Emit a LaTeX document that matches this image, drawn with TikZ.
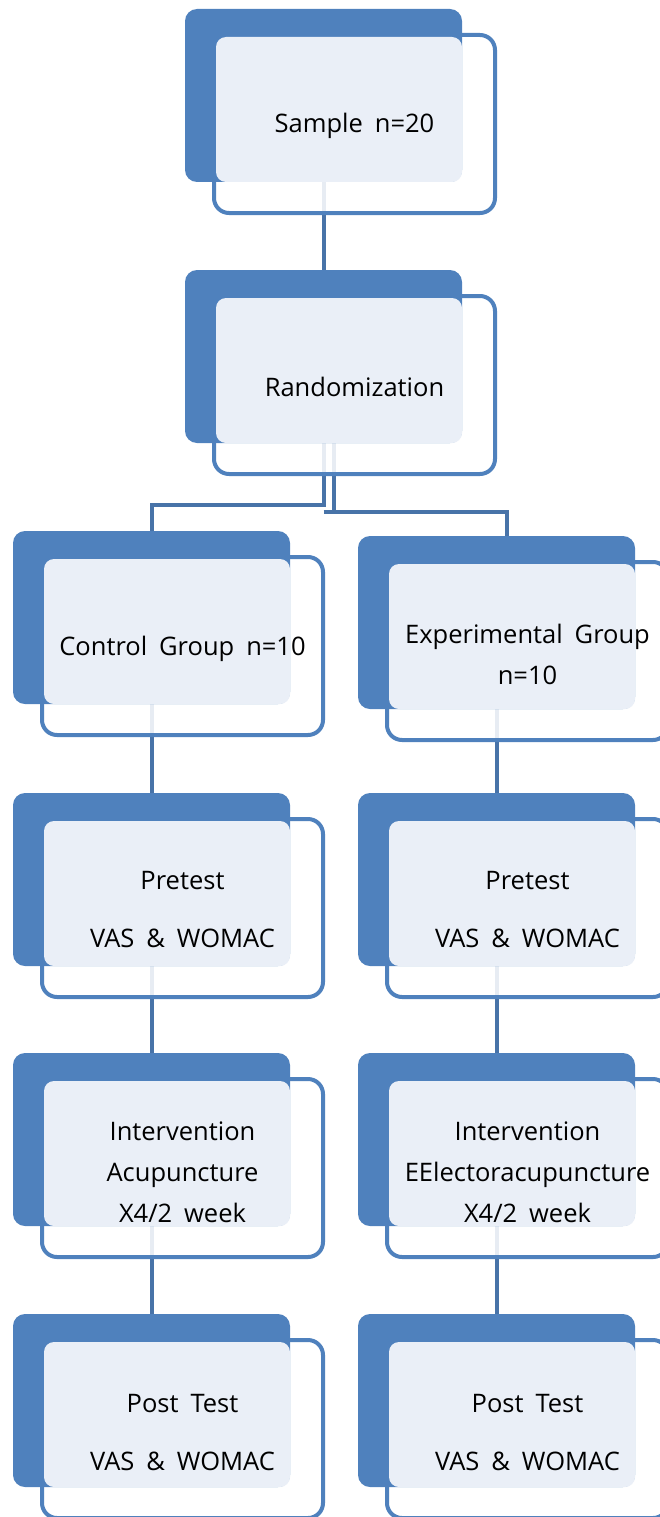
\documentclass[tikz,border=0pt]{standalone}
\usepackage{fontspec}
\setmainfont[WordSpace=1.8]{Open Sans}
\usepackage{xcolor}

\definecolor{boxblue}{RGB}{79,129,189}
\definecolor{linkblue}{RGB}{72,115,168}
\definecolor{paleblue}{RGB}{234,239,247}

\pgfdeclarelayer{background}
\pgfsetlayers{background,main}

\begin{document}
\begin{tikzpicture}[x=1pt,y=1pt,yscale=-1,xscale=1,
    backbox/.style={fill=boxblue, rounded corners=12pt, minimum width=277pt, minimum height=173pt, inner sep=0pt, outer sep=0pt, anchor=north west},
    outerbox/.style={draw=boxblue, line width=4pt, fill=white, fill opacity=0.87, rounded corners=15pt},
    innerbox/.style={fill=paleblue, rounded corners=10pt},
    boxtext/.style={inner sep=0pt, align=center, font=\fontsize{25.5}{41}\selectfont},
    link/.style={draw=linkblue, line width=4pt}]
            \useasboundingbox (0,0) rectangle (660,1517);
                %Rounded Rect: Sample
                \draw [outerbox] (214,35) rectangle (495,213);
                \node [backbox] (sample) at (185,9) {};
                \fill [innerbox] (216,37) rectangle (462,182);
                % Text Node
                \node [boxtext] (sampleText) at (354.5,126) {Sample n=20};

                %Rounded Rect: Randomization
                \draw [outerbox] (214,296) rectangle (495,474);
                \node [backbox] (rand) at (185,270) {};
                \fill [innerbox] (216,298) rectangle (462,443);
                % Text Node
                \node [boxtext] (randText) at (354.5,387) {Randomization};

                %Rounded Rect: Control Group
                \draw [outerbox] (42,557) rectangle (323,735);
                \node [backbox] (ctrl) at (13,531) {};
                \fill [innerbox] (44,559) rectangle (290,704);
                % Text Node
                \node [boxtext] (ctrlText) at (182.5,649) {Control Group n=10};

                %Rounded Rect: Experimental Group
                \draw [outerbox] (387,562) rectangle (668,740);
                \node [backbox] (expg) at (358,536) {};
                \fill [innerbox] (389,564) rectangle (635,709);
                % Text Node
                \node [boxtext] (expgText) at (527.5,654) {Experimental Group\\n=10};

                %Rounded Rect: Pretest (control)
                \draw [outerbox] (42,819) rectangle (323,997);
                \node [backbox] (preA) at (13,793) {};
                \fill [innerbox] (44,821) rectangle (290,966);
                % Text Node
                \node [boxtext] (preAText) at (182.5,910) {Pretest\\[17pt]VAS \& WOMAC};

                %Rounded Rect: Pretest (experimental)
                \draw [outerbox] (387,819) rectangle (668,997);
                \node [backbox] (preB) at (358,793) {};
                \fill [innerbox] (389,821) rectangle (635,966);
                % Text Node
                \node [boxtext] (preBText) at (527.5,910) {Pretest\\[17pt]VAS \& WOMAC};

                %Rounded Rect: Intervention (control)
                \draw [outerbox] (42,1079) rectangle (323,1257);
                \node [backbox] (intA) at (13,1053) {};
                \fill [innerbox] (44,1081) rectangle (290,1226);
                % Text Node
                \node [boxtext] (intAText) at (182.5,1172) {Intervention\\Acupuncture\\X4/2 week};

                %Rounded Rect: Intervention (experimental)
                \draw [outerbox] (387,1079) rectangle (668,1257);
                \node [backbox] (intB) at (358,1053) {};
                \fill [innerbox] (389,1081) rectangle (635,1226);
                % Text Node
                \node [boxtext] (intBText) at (527.5,1172) {Intervention\\EElectoracupuncture\\X4/2 week};

                %Rounded Rect: Post Test (control)
                \draw [outerbox] (42,1340) rectangle (323,1518);
                \node [backbox] (postA) at (13,1314) {};
                \fill [innerbox] (44,1342) rectangle (290,1487);
                % Text Node
                \node [boxtext] (postAText) at (182.5,1433) {Post Test\\[17pt]VAS \& WOMAC};

                %Rounded Rect: Post Test (experimental)
                \draw [outerbox] (387,1340) rectangle (668,1518);
                \node [backbox] (postB) at (358,1314) {};
                \fill [innerbox] (389,1342) rectangle (635,1487);
                % Text Node
                \node [boxtext] (postBText) at (527.5,1433) {Post Test\\[17pt]VAS \& WOMAC};

                %Straight Lines
                \coordinate (splitR) at (507,512);
                \begin{pgfonlayer}{background}
                \draw [link] (sample.south) -- (rand.north);
                \draw [link] (rand.south) -- ++(0,62) -| (ctrl.north);
                \draw [link] ([xshift=10pt]rand.south) -- ([xshift=10pt]rand.south |- splitR);
                \draw [link] (rand.south |- splitR) -- (splitR) -- (splitR |- expg.north);
                \draw [link] (ctrl.south) -- (preA.north);
                \draw [link] (preA.south) -- (intA.north);
                \draw [link] (intA.south) -- ([yshift=6pt]postA.north);
                \draw [link] (expg.south) -- (preB.north);
                \draw [link] (preB.south) -- (intB.north);
                \draw [link] (intB.south) -- ([yshift=6pt]postB.north);
                \end{pgfonlayer}
            \end{tikzpicture}
\end{document}
